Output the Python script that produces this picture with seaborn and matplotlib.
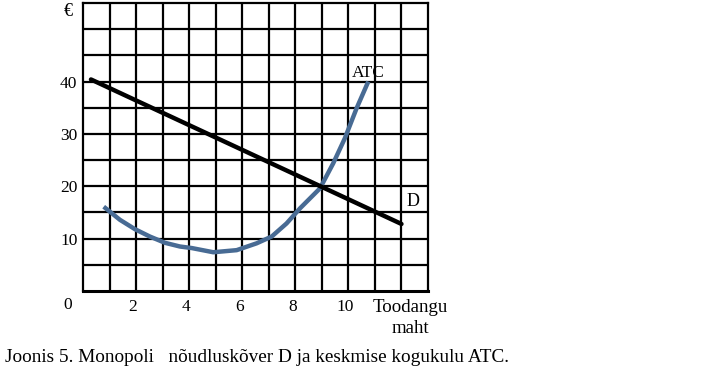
import matplotlib
matplotlib.use("Agg")
import matplotlib.pyplot as plt
import matplotlib.transforms as mtransforms
import seaborn as sns
import pandas as pd

# Data
d_x = [0.3, 12.0]
d_y = [40.4, 12.8]
atc_x = [0.78, 1.39, 1.96, 2.52, 3.09, 3.65, 4.1, 4.91, 5.79, 6.54, 7.11, 7.67,
         8.18, 8.93, 9.43, 9.87, 10.31, 10.75]
atc_y = [16.1, 13.6, 11.8, 10.4, 9.2, 8.5, 8.2, 7.4, 7.8, 9.1, 10.4, 12.9,
         15.8, 19.6, 24.4, 29.2, 34.9, 40.0]
x_tick_vals = [2, 4, 6, 8, 10]
y_tick_vals = [10, 20, 30, 40]
x_label = "Toodangu\nmaht"
y_label = "€"
caption = "Joonis 5. Monopoli   nõudluskõver D ja keskmise kogukulu ATC."

sns.set_theme(style="white")
plt.rcParams["font.family"] = ["Liberation Serif", "DejaVu Serif"]
plt.rcParams["text.color"] = "black"

W, H = 719, 370
fig = plt.figure(figsize=(W / 100, H / 100), dpi=100)
ax = fig.add_axes([83 / W, 1 - 291 / H, (428 - 83) / W, (291 - 3) / H])

df_d = pd.DataFrame({"x": d_x, "y": d_y})
df_atc = pd.DataFrame({"x": atc_x, "y": atc_y})

# grid
for gx in range(1, 13):
    ax.axvline(gx, color="black", lw=1.6, zorder=1)
for gy in range(5, 55, 5):
    ax.axhline(gy, color="black", lw=1.6, zorder=1)

sns.lineplot(data=df_atc, x="x", y="y", ax=ax, color="#486b94", lw=3.2,
             sort=False, estimator=None, zorder=3,
             solid_joinstyle="round", solid_capstyle="butt")
sns.lineplot(data=df_d, x="x", y="y", ax=ax, color="black", lw=3.2,
             sort=False, estimator=None, zorder=4)

ax.set_xlim(0, 13)
ax.set_ylim(0, 55)
for s in ax.spines.values():
    s.set_color("black")
    s.set_linewidth(1.6)
ax.spines["bottom"].set_linewidth(2.2)

ax.set_xticks(x_tick_vals)
ax.set_xticklabels([str(v) for v in x_tick_vals])
ax.set_yticks(y_tick_vals)
ax.set_yticklabels([str(v) for v in y_tick_vals])
ax.tick_params(axis="both", length=0, labelsize=12.5, colors="black")
ax.tick_params(axis="x", pad=6)
ax.tick_params(axis="y", pad=4)
off = mtransforms.ScaledTranslation(-3 / 100, 0, fig.dpi_scale_trans)
for lbl in ax.get_xticklabels():
    lbl.set_transform(lbl.get_transform() + off)
ax.set_xlabel("")
ax.set_ylabel("")

fig.text(68 / W, 1 - 305 / H, "0", ha="center", va="center", fontsize=12.5)
fig.text(68.5 / W, 1 - 11 / H, y_label, ha="center", va="center", fontsize=13)
fig.text(410 / W, 1 - 318 / H, x_label, ha="center", va="center", fontsize=13.6,
         linespacing=1.25)
ax.text(10.74, 41.6, "ATC", ha="center", va="center", fontsize=12.5)
ax.text(12.45, 17.0, "D", ha="center", va="center", fontsize=13)
fig.text(5 / W, 1 - 357 / H, caption, ha="left", va="center", fontsize=13.9)

fig.savefig("out.png", dpi=100)
